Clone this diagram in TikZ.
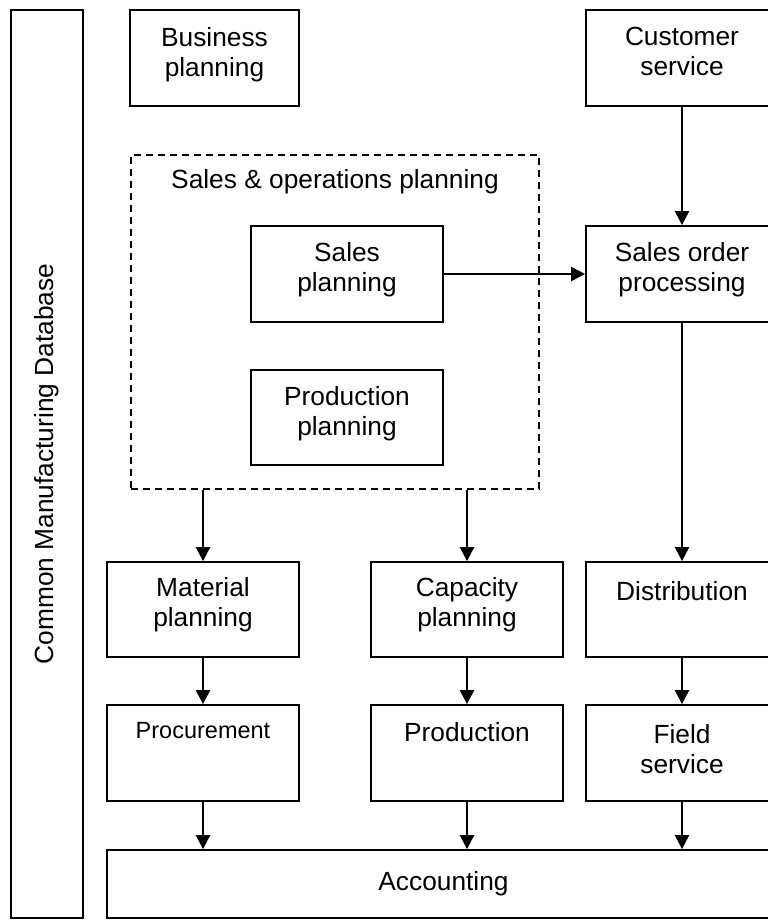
\documentclass[tikz,border=0pt]{standalone}
\usepackage{fontspec}
\setmainfont{Liberation Sans}
\usetikzlibrary{arrows.meta}
\begin{document}
\begin{tikzpicture}[x=1pt,y=-1pt,
  box/.style={draw, line width=1.8pt, inner sep=0pt, minimum width=192pt, minimum height=96pt},
  lbl/.style={inner sep=0pt, anchor=north, align=center, font=\fontsize{26.3}{30}\selectfont},
  flow/.style={draw, line width=2.4pt, -{Triangle[length=14pt,width=14pt]}},
  group/.style={draw, line width=1.6pt, dash pattern=on 7pt off 5pt, inner sep=0pt},
]
\useasboundingbox (0,0) rectangle (768,921);
\clip (0,0) rectangle (768,921);

% database column
\node[box, minimum width=72pt, minimum height=908pt] (db) at (47,464) {};
\node[rotate=90, inner sep=0pt, font=\fontsize{26.3}{30}\selectfont] (db-t) at (db.center) {Common Manufacturing Database};

% top row
\node[box, minimum width=169pt] (bp) at (214.5,58) {};
\node[lbl] (bp-t) at ([yshift=-18pt]bp.north) {Business\\planning};
\node[box] (cs) at (682,58) {};
\node[lbl] (cs-t) at ([yshift=-18pt]cs.north) {Customer\\service};

% sales & operations planning group
\node[group, minimum width=408pt, minimum height=334pt] (sop) at (335,322) {};
\node[lbl] (sop-t) at ([yshift=-15pt]sop.north) {Sales \& operations planning};
\node[box] (sp) at (347,274) {};
\node[lbl] (sp-t) at ([yshift=-17pt]sp.north) {Sales\\planning};
\node[box, minimum height=95pt] (pp) at (347,417.5) {};
\node[lbl] (pp-t) at ([yshift=-17pt]pp.north) {Production\\planning};

\node[box] (so) at (682,274) {};
\node[lbl] (so-t) at ([yshift=-17pt]so.north) {Sales order\\processing};

% planning row
\node[box, minimum height=95pt] (mp) at (203,609.5) {};
\node[lbl] (mp-t) at ([yshift=-16pt]mp.north) {Material\\planning};
\node[box, minimum height=95pt] (cp) at (467,609.5) {};
\node[lbl] (cp-t) at ([yshift=-16pt]cp.north) {Capacity\\planning};
\node[box, minimum height=95pt] (di) at (682,609.5) {};
\node[lbl] (di-t) at ([yshift=-20pt]di.north) {Distribution};

% execution row
\node[box] (pc) at (203,753) {};
\node[lbl, font=\fontsize{23.5}{28}\selectfont] (pc-t) at ([yshift=-18pt]pc.north) {Procurement};
\node[box] (pd) at (467,753) {};
\node[lbl] (pd-t) at ([yshift=-18pt]pd.north) {Production};
\node[box] (fs) at (682,753) {};
\node[lbl] (fs-t) at ([yshift=-20pt]fs.north) {Field\\service};

% accounting
\node[box, minimum width=673pt, minimum height=68pt] (ac) at (443.5,884) {};
\node[inner sep=0pt, font=\fontsize{26.3}{30}\selectfont] (ac-t) at (ac.center) {Accounting};

% connectors
\draw[flow] (cs.south) -- (so.north);
\draw[flow] (sp.east) -- (sp.east -| so.west);
\draw[flow] (so.south) -- (di.north);
\draw[flow] (mp.north |- sop.south) -- (mp.north);
\draw[flow] (cp.north |- sop.south) -- (cp.north);
\draw[flow] (mp.south) -- (pc.north);
\draw[flow] (cp.south) -- (pd.north);
\draw[flow] (di.south) -- (fs.north);
\draw[flow] (pc.south) -- (pc.south |- ac.north);
\draw[flow] (pd.south) -- (pd.south |- ac.north);
\draw[flow] (fs.south) -- (fs.south |- ac.north);
\end{tikzpicture}
\end{document}
